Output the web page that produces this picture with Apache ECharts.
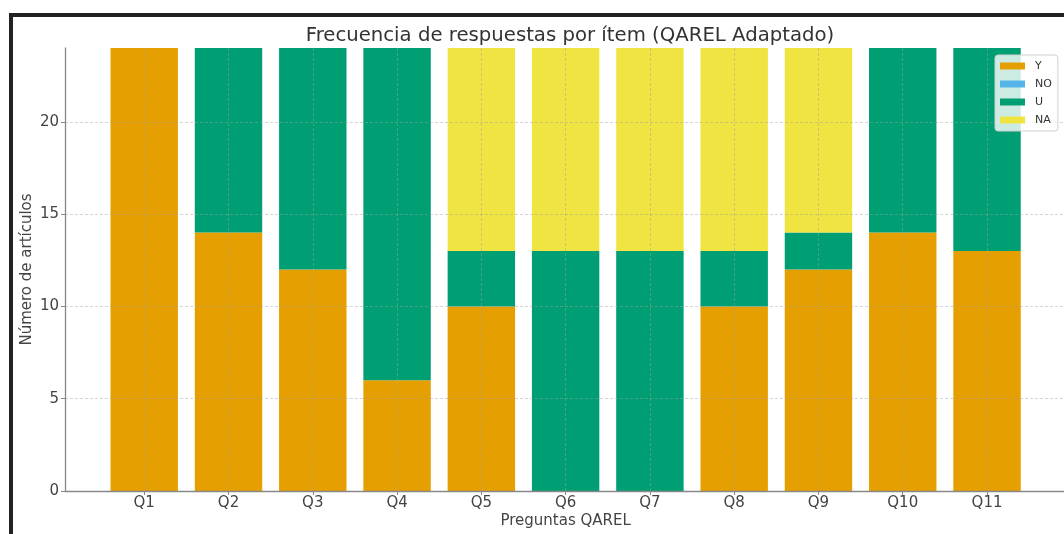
<!DOCTYPE html>
<html>
<head>
<meta charset="utf-8">
<script src="https://cdn.jsdelivr.net/npm/echarts@6/dist/echarts.min.js"></script>
<style>
html,body{margin:0;padding:0;background:#fff;}
#chart{width:1064px;height:534px;}
</style>
</head>
<body>
<div id="chart"></div>
<script>
const categories = ['Q1','Q2','Q3','Q4','Q5','Q6','Q7','Q8','Q9','Q10','Q11'];
const seriesNames = ['Y','NO','U','NA'];
const valuesY  = [24, 14, 12, 6, 10, 0, 0, 10, 12, 14, 13];
const valuesNO = [0, 0, 0, 0, 0, 0, 0, 0, 0, 0, 0];
const valuesU  = [0, 10, 12, 18, 3, 13, 13, 3, 2, 10, 11];
const valuesNA = [0, 0, 0, 0, 11, 11, 11, 11, 10, 0, 0];
const yTicks = [0, 5, 10, 15, 20];

const colors = ['#E69F00', '#56B4E9', '#009E73', '#F0E442'];
const allValues = [valuesY, valuesNO, valuesU, valuesNA];
const idx = categories.map((c, i) => i);

const chart = echarts.init(document.getElementById('chart'), null, {renderer: 'canvas'});
const font = 'DejaVu Sans';
const gridLine = {show: true, lineStyle: {color: 'rgba(160,160,160,0.45)', type: [3, 2], width: 1}};
const unit = 84.28;          // pixel width of one category step
const plotLeft = 65, plotTop = 48, plotBottom = 43;
const option = {
  animation: false,
  title: {
    text: 'Frecuencia de respuestas por ítem (QAREL Adaptado)',
    left: 565, top: 21, textAlign: 'center',
    textStyle: {fontFamily: font, fontSize: 19.7, fontWeight: 'normal', color: '#333'}
  },
  legend: {
    orient: 'vertical', left: 995, top: 55,
    data: seriesNames,
    itemWidth: 25, itemHeight: 7, itemGap: 6,
    padding: [5, 6, 5, 5],
    backgroundColor: 'rgba(255,255,255,0.8)',
    borderColor: '#d0d0d0', borderWidth: 1, borderRadius: 3,
    icon: 'rect',
    textStyle: {fontFamily: font, fontSize: 11, color: '#333', lineHeight: 12, padding: [0, 0, 0, 5]}
  },
  grid: [
    {left: plotLeft, top: plotTop, bottom: plotBottom, width: unit * 11.88, outerBoundsMode: 'none', containLabel: false},
    {left: plotLeft + unit * 0.94 - unit / 2, top: plotTop, bottom: plotBottom, width: unit * 11, outerBoundsMode: 'none', containLabel: false}
  ],
  xAxis: [{
    gridIndex: 0, type: 'value', min: -0.94, max: 10.94, z: 3,
    name: 'Preguntas QAREL', nameLocation: 'middle', nameGap: 23, nameMoveOverlap: false,
    nameTextStyle: {fontFamily: font, fontSize: 15, color: '#444'},
    axisLine: {onZero: false, lineStyle: {color: '#888', width: 1.3}},
    axisTick: {customValues: idx, length: 4, lineStyle: {color: '#888'}},
    axisLabel: {customValues: idx, formatter: v => categories[Math.round(v)] || '', margin: 5,
      fontFamily: font, fontSize: 15, color: '#444'},
    splitLine: gridLine
  }, {
    gridIndex: 1, type: 'category', data: categories, show: false
  }],
  yAxis: [{
    gridIndex: 0, type: 'value', min: 0, max: 24, z: 3,
    name: 'Número de artículos', nameLocation: 'middle', nameGap: 30, nameMoveOverlap: false,
    nameTextStyle: {fontFamily: font, fontSize: 15, color: '#444'},
    axisLine: {show: true, onZero: false, lineStyle: {color: '#888', width: 1.3}},
    axisTick: {show: true, customValues: yTicks, length: 4, lineStyle: {color: '#888'}},
    axisLabel: {customValues: yTicks, formatter: v => String(v), margin: 6,
      fontFamily: font, fontSize: 15, color: '#444'},
    splitLine: gridLine
  }, {
    gridIndex: 1, type: 'value', min: 0, max: 24, show: false, splitLine: {show: false}
  }],
  graphic: [
    {type: 'rect', left: 9, top: 13, shape: {width: 4, height: 521}, style: {fill: '#222'}, z: 100},
    {type: 'rect', left: 9, top: 13, shape: {width: 1055, height: 4}, style: {fill: '#222'}, z: 100}
  ],
  series: seriesNames.map((name, s) => ({
    name: name, type: 'bar', stack: 'total', barWidth: '80%',
    xAxisIndex: 1, yAxisIndex: 1,
    itemStyle: {color: colors[s]},
    data: allValues[s]
  }))
};
chart.setOption(option);
</script>
</body>
</html>
